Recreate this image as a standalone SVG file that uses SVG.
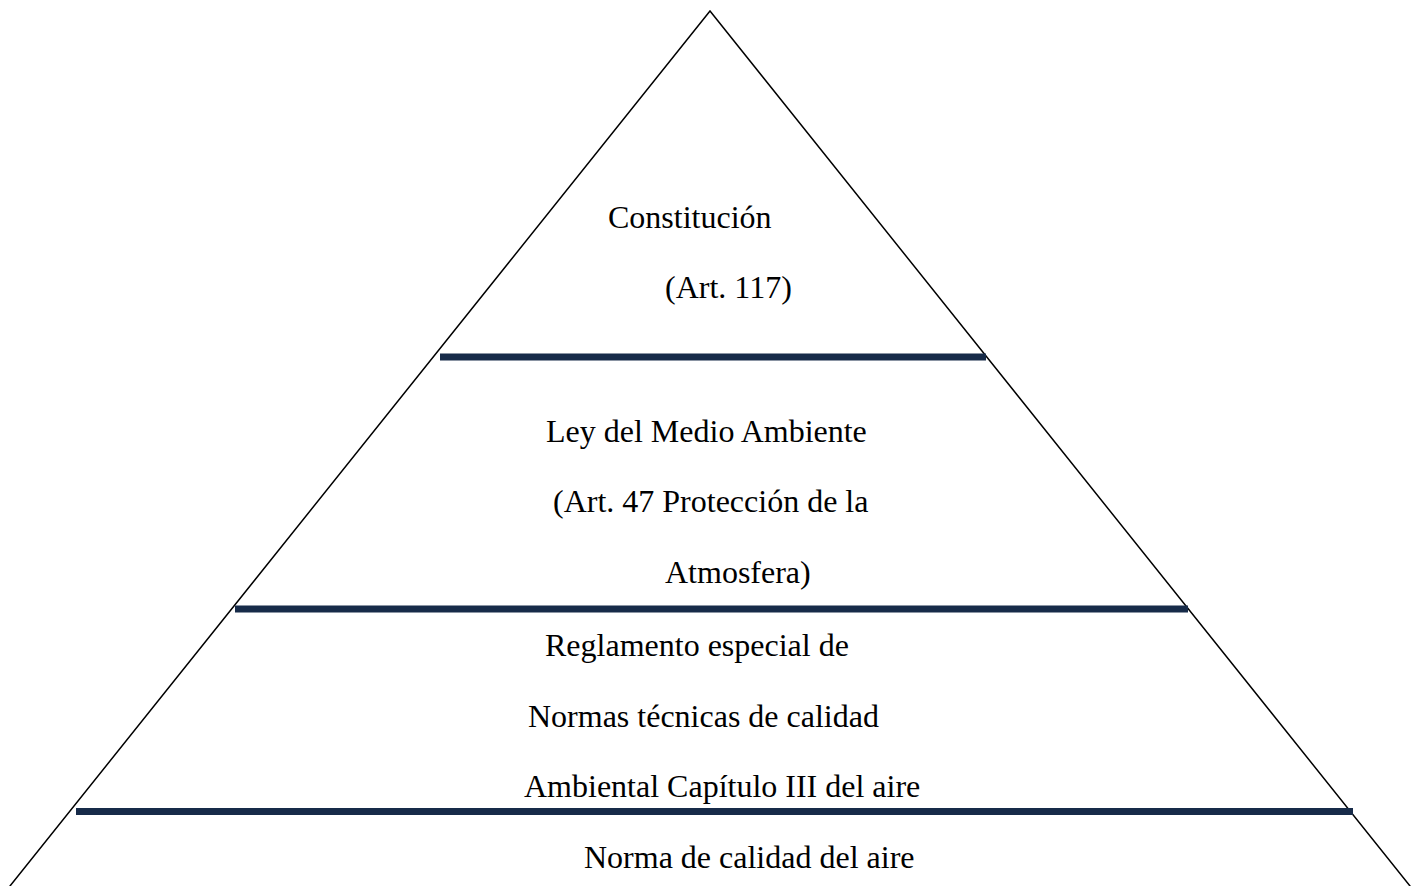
<svg xmlns="http://www.w3.org/2000/svg" width="1420" height="886" viewBox="0 0 1420 886">
<style>
.edge{fill:none;stroke:#000;stroke-width:1.5;stroke-linecap:round}
.bar{stroke:#172b49;stroke-width:7;stroke-linecap:butt}
text{font-family:"Liberation Serif","Times New Roman",serif;font-size:32px;fill:#000}
</style>
<rect width="1420" height="886" fill="#fff"/>
<g id="connectors">
<path class="edge" d="M10,886 L710,11 L1410,886"/>
<line class="bar" x1="440" y1="357" x2="986" y2="357"/>
<line class="bar" x1="235" y1="609" x2="1188" y2="609"/>
<line class="bar" x1="76" y1="811.5" x2="1353" y2="811.5"/>
</g>
<g id="level1">
<text x="608" y="228">Constitución</text>
<text x="665" y="298">(Art. 117)</text>
</g>
<g id="level2">
<text x="546" y="442">Ley del Medio Ambiente</text>
<text x="553" y="512">(Art. 47 Protección de la</text>
<text x="665" y="583">Atmosfera)</text>
</g>
<g id="level3">
<text x="545" y="656">Reglamento especial de</text>
<text x="528" y="727">Normas técnicas de calidad</text>
<text x="524" y="797">Ambiental Capítulo III del aire</text>
</g>
<g id="level4">
<text x="584" y="868">Norma de calidad del aire</text>
</g>
</svg>
